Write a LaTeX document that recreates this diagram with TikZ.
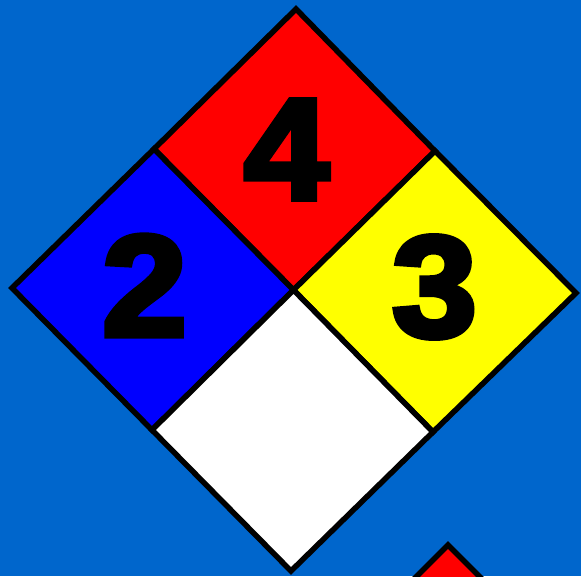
\documentclass[tikz,border=0pt]{standalone}
\usepackage{fontspec}
\newfontfamily\heavy[BoldFeatures={FakeBold=4}]{Liberation Sans}
\definecolor{bg}{RGB}{0,102,204}
\definecolor{nfpared}{RGB}{255,0,0}
\definecolor{nfpablue}{RGB}{0,0,255}
\definecolor{nfpayellow}{RGB}{255,255,0}
\tikzset{
  quad/.style={draw=black, line width=5.5pt, line join=miter},
  digit/.style={font=\heavy\bfseries\fontsize{144}{144}\selectfont, text=black, inner sep=0pt, anchor=center, xscale=1.06}
}
\begin{document}
\begin{tikzpicture}[x=1pt,y=-1pt]
\useasboundingbox (0,0) rectangle (581,576);
\clip (0,0) rectangle (581,576);
\fill[bg] (0,0) rectangle (581,576);
% vertices
\coordinate (T) at (296,9);
\coordinate (R) at (576,293);
\coordinate (B) at (291,571);
\coordinate (L) at (12,288);
\coordinate (C) at (293.5,290);
\coordinate (TL) at (154,149);
\coordinate (TR) at (435,151);
\coordinate (BL) at (152,430);
\coordinate (BR) at (433,432);
% small diamond at bottom
\filldraw[quad, fill=nfpared] (448,545) -- (498,595) -- (448,645) -- (398,595) -- cycle;
% quadrants
\filldraw[quad, fill=nfpared] (T) -- (TR) -- (C) -- (TL) -- cycle;
\filldraw[quad, fill=nfpablue] (TL) -- (C) -- (BL) -- (L) -- cycle;
\filldraw[quad, fill=nfpayellow] (TR) -- (R) -- (BR) -- (C) -- cycle;
\filldraw[quad, fill=white] (C) -- (BR) -- (B) -- (BL) -- cycle;
% numbers
\node[digit] (fire) at (286.5,149.5) {4};
\node[digit] (health) at (144.5,285.5) {2};
\node[digit] (react) at (434.5,287) {3};
\end{tikzpicture}
\end{document}
